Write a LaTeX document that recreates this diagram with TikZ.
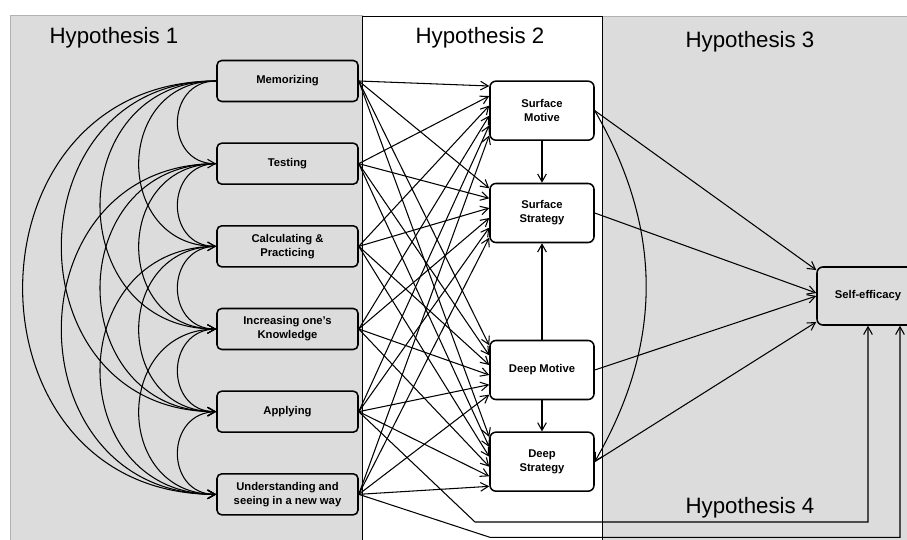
\documentclass[tikz,border=0pt]{standalone}
\usepackage{fontspec}
\setmainfont{Liberation Sans}
\usetikzlibrary{arrows.meta, calc}

\definecolor{panelgray}{RGB}{220,220,220}

\begin{document}
\begin{tikzpicture}[
  font=\fontsize{9.6}{12}\selectfont\bfseries,
  lbox/.style = {draw, line width=1.3pt, rounded corners=4pt, fill=panelgray,
                 minimum width=42.3mm, minimum height=12.3mm, align=center},
  mbox/.style = {draw, line width=1.3pt, rounded corners=5pt, fill=white,
                 minimum width=31.2mm, minimum height=17.7mm, align=center},
  hyp/.style = {font=\fontsize{19}{22}\selectfont},
  arrow/.style = {-{Straight Barb[length=2.3mm, width=2.6mm]}, line width=0.9pt},
  corr/.style = {arrow, out=180, in=180, looseness=1.6}
]

\useasboundingbox (0,0) rectangle (272.1mm,-162mm);

% Panels
\draw[fill=panelgray, draw=gray!60] (3mm,-4.5mm) rectangle (108.6mm,-163mm);
\draw[fill=panelgray, draw=gray!60] (180.6mm,-4.8mm) rectangle (275mm,-163mm);
\draw[fill=white, line width=0.8pt] (108.6mm,-4.8mm) rectangle (180.6mm,-163mm);

% Panel titles
\node[hyp] (h1label) at (34.2mm,-11.4mm) {Hypothesis 1};
\node[hyp] (h2label) at (144mm,-11.4mm) {Hypothesis 2};
\node[hyp] (h3label) at (225mm,-12.6mm) {Hypothesis 3};
\node[hyp] (h4label) at (225mm,-152.4mm) {Hypothesis 4};

% Conceptions (left column)
\node[lbox] (memorizing) at (86.25mm,-24.3mm) {Memorizing};
\node[lbox] (testing) at (86.25mm,-49.1mm) {Testing};
\node[lbox] (calculating) at (86.25mm,-73.9mm) {Calculating \&\\Practicing};
\node[lbox] (increasing) at (86.25mm,-98.7mm) {Increasing one’s\\Knowledge};
\node[lbox] (applying) at (86.25mm,-123.5mm) {Applying};
\node[lbox] (understanding) at (86.25mm,-148.3mm) {Understanding and\\seeing in a new way};

% Approaches (middle column)
\node[mbox] (smotive) at (162.6mm,-33.2mm) {Surface\\Motive};
\node[mbox] (sstrategy) at (162.6mm,-63.9mm) {Surface\\Strategy};
\node[mbox] (dmotive) at (162.6mm,-111mm) {Deep Motive};
\node[mbox] (dstrategy) at (162.6mm,-138.5mm) {Deep\\Strategy};

% Outcome
\node[mbox, fill=panelgray, minimum width=30.6mm, minimum height=17.4mm] (selfeff) at (260.4mm,-88.8mm) {Self-efficacy};

% Bends of the Hypothesis 4 paths
\coordinate (h4turn) at (142.5mm,-156.6mm);
\coordinate (h4low) at (147mm,-161.2mm);

% Correlations among conceptions
\draw[corr] (memorizing.west) to (testing.west);
\draw[corr] (memorizing.west) to (calculating.west);
\draw[corr] (memorizing.west) to (increasing.west);
\draw[corr] (memorizing.west) to (applying.west);
\draw[corr] (memorizing.west) to (understanding.west);
\draw[corr] (testing.west) to (calculating.west);
\draw[corr] (testing.west) to (increasing.west);
\draw[corr] (testing.west) to (applying.west);
\draw[corr] (testing.west) to (understanding.west);
\draw[corr] (calculating.west) to (increasing.west);
\draw[corr] (calculating.west) to (applying.west);
\draw[corr] (calculating.west) to (understanding.west);
\draw[corr] (increasing.west) to (applying.west);
\draw[corr] (increasing.west) to (understanding.west);
\draw[corr] (applying.west) to (understanding.west);

% Conceptions -> approaches
\draw[arrow] (memorizing.east) -- ([yshift=7.4mm]smotive.west);
\draw[arrow] (memorizing.east) -- ([yshift=7.4mm]sstrategy.west);
\draw[arrow] (memorizing.east) -- ([yshift=7.4mm]dmotive.west);
\draw[arrow] (memorizing.east) -- ([yshift=7.4mm]dstrategy.west);
\draw[arrow] (testing.east) -- ([yshift=4.4mm]smotive.west);
\draw[arrow] (testing.east) -- ([yshift=4.4mm]sstrategy.west);
\draw[arrow] (testing.east) -- ([yshift=4.4mm]dmotive.west);
\draw[arrow] (testing.east) -- ([yshift=4.4mm]dstrategy.west);
\draw[arrow] (calculating.east) -- ([yshift=1.5mm]smotive.west);
\draw[arrow] (calculating.east) -- ([yshift=1.5mm]sstrategy.west);
\draw[arrow] (calculating.east) -- ([yshift=1.5mm]dmotive.west);
\draw[arrow] (calculating.east) -- ([yshift=1.5mm]dstrategy.west);
\draw[arrow] (increasing.east) -- ([yshift=-1.5mm]smotive.west);
\draw[arrow] (increasing.east) -- ([yshift=-1.5mm]sstrategy.west);
\draw[arrow] (increasing.east) -- ([yshift=-1.5mm]dmotive.west);
\draw[arrow] (increasing.east) -- ([yshift=-1.5mm]dstrategy.west);
\draw[arrow] (applying.east) -- ([yshift=-4.4mm]smotive.west);
\draw[arrow] (applying.east) -- ([yshift=-4.4mm]sstrategy.west);
\draw[arrow] (applying.east) -- ([yshift=-4.4mm]dmotive.west);
\draw[arrow] (applying.east) -- ([yshift=-4.4mm]dstrategy.west);
\draw[arrow] (understanding.east) -- ([yshift=-7.4mm]smotive.west);
\draw[arrow] (understanding.east) -- ([yshift=-7.4mm]sstrategy.west);
\draw[arrow] (understanding.east) -- ([yshift=-7.4mm]dmotive.west);
\draw[arrow] (understanding.east) -- ([yshift=-7.4mm]dstrategy.west);

% Within approaches
\draw[arrow] (smotive) -- (sstrategy);
\draw[arrow] (dmotive) -- (dstrategy);
\draw[arrow] (dmotive) -- (sstrategy);
\draw[arrow] (smotive.east) to[out=-60, in=60] (dstrategy.east);

% Approaches -> self-efficacy
\draw[arrow] (smotive.east) -- ([yshift=7.8mm]selfeff.west);
\draw[arrow] (sstrategy.east) -- ([yshift=0.9mm]selfeff.west);
\draw[arrow] (dmotive.east) -- (selfeff.west);
\draw[arrow] (dstrategy.east) -- ([yshift=-7.8mm]selfeff.west);

% Conceptions -> self-efficacy
\draw[arrow] (applying.east) -- (h4turn) -| (selfeff.south);
\draw[arrow] (understanding.east) -- (h4low) -| ([xshift=9.6mm]selfeff.south);

\end{tikzpicture}
\end{document}
